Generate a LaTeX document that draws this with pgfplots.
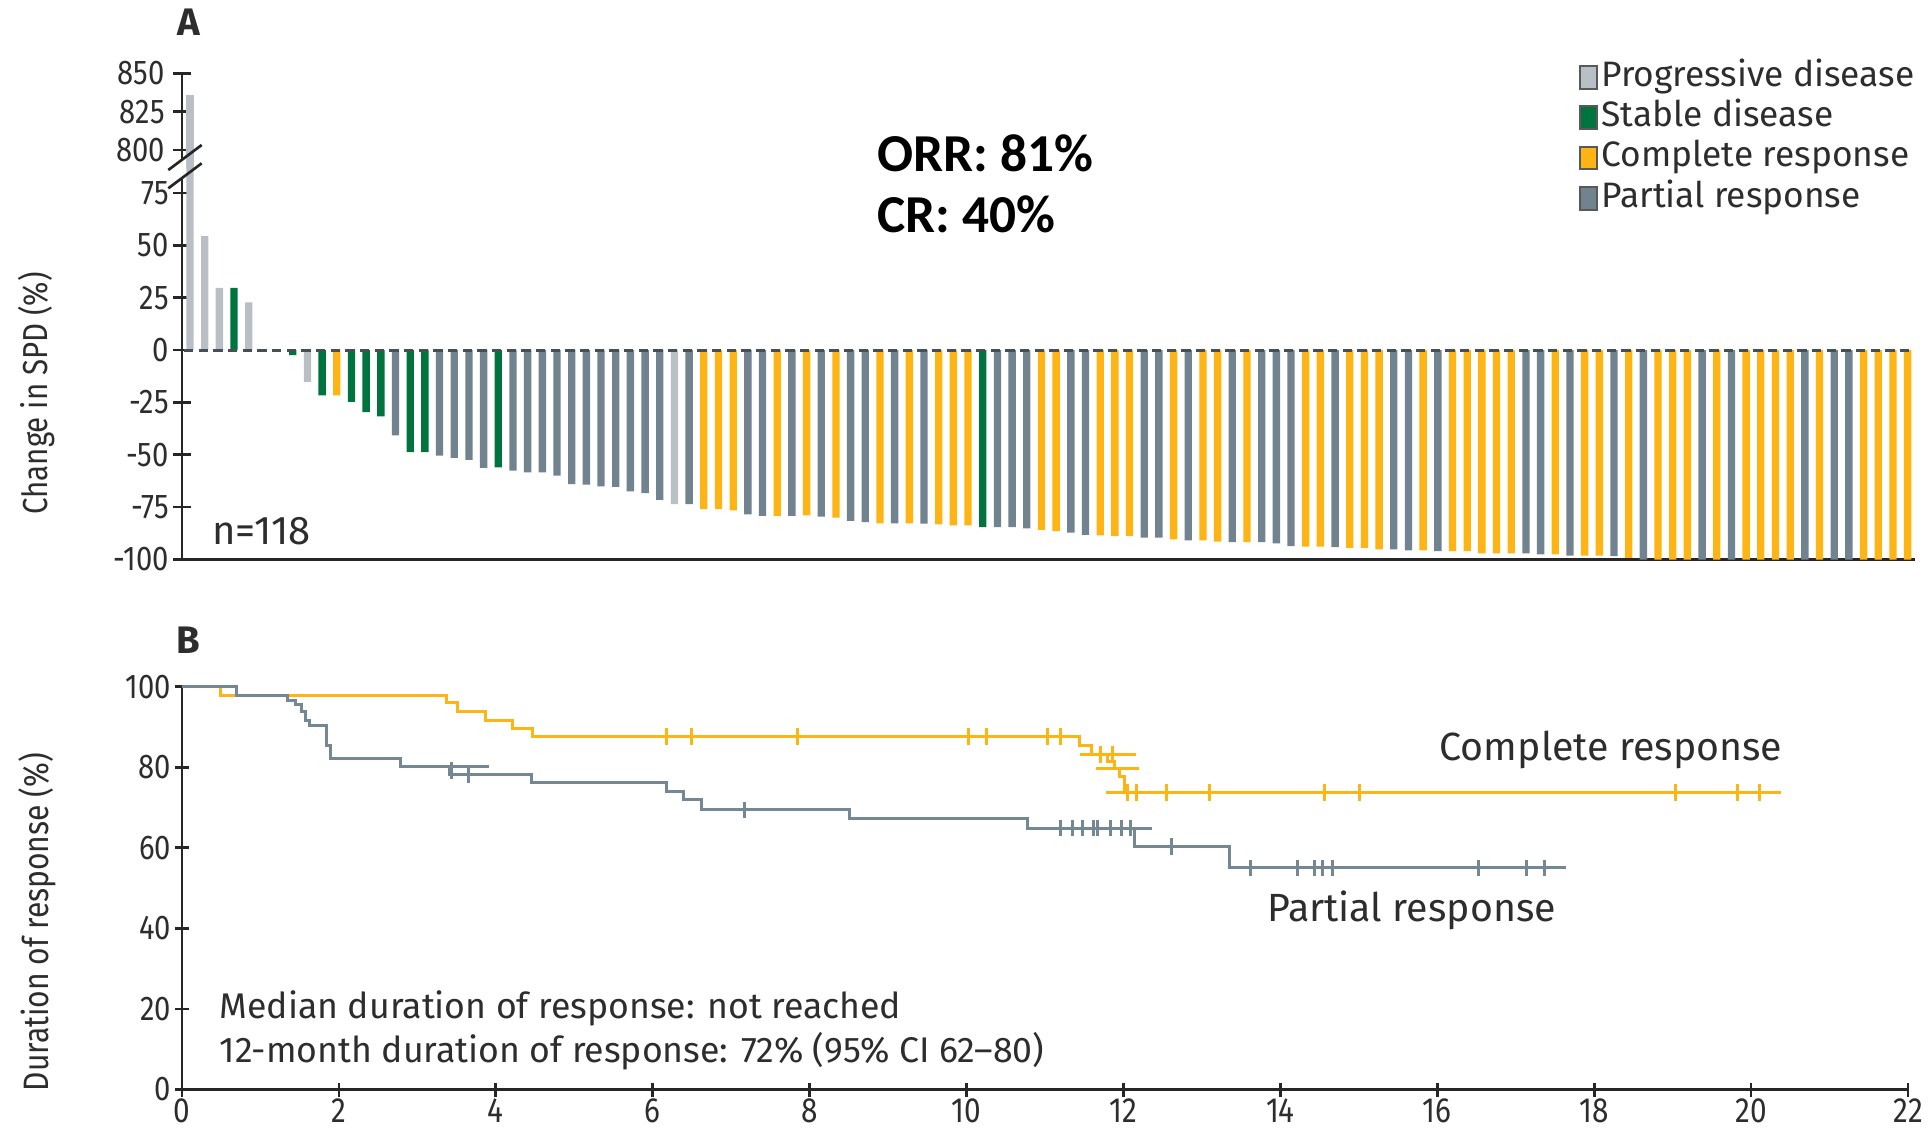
\documentclass[border=0pt]{standalone}
\usepackage{pgfplots}
\pgfplotsset{compat=1.18}
\usepackage{fontspec}
\setmainfont{Fira Sans}
\newfontfamily\condfont{Fira Sans}[FakeStretch=0.85]
\newfontfamily\carlito{Carlito}
\definecolor{pdgray}{RGB}{184,192,198}
\definecolor{sdgreen}{RGB}{0,115,62}
\definecolor{crorange}{RGB}{253,180,20}
\definecolor{prgray}{RGB}{113,131,143}
\definecolor{kmgray}{RGB}{115,135,148}
\definecolor{txt}{RGB}{45,45,45}
\begin{document}
\begin{tikzpicture}
\useasboundingbox (0,0) rectangle (578.4pt,340.8pt);
\pgfplotsset{
  myaxis/.style={scale only axis, anchor=south west,
    tick style={line width=0.8pt, black!85},
    tick align=outside, major tick length=5.5pt,
    ticklabel style={font=\condfont\fontsize{10.3}{12}\selectfont, text=txt},
    yticklabel style={inner xsep=1pt},
  },
  nolinearrows/.style={axis line style={-, line width=0.8pt, black!85},
    every outer x axis line/.append style={-},
    every outer y axis line/.append style={-}},
}
% ---------------- Panel A, upper part of broken axis
\begin{axis}[myaxis, at={(54.6pt,290.1pt)}, width=519.75pt, height=28.71pt,
  xmin=0.455, xmax=118.47, ymin=787.6, ymax=850,
  axis y line=left, axis x line=none, nolinearrows,
  yticklabel style={xshift=-1.2pt},
  ytick={800,825,850}, yticklabels={800,825,850}, bar width=0.5]
\addplot[ybar, bar shift=0pt, fill=pdgray, draw=none] coordinates {(1,836)};
\end{axis}
% ---------------- Panel A, lower part
\begin{axis}[myaxis, at={(54.6pt,172.95pt)}, width=519.75pt, height=117.15pt,
  xmin=0.455, xmax=118.47, ymin=-100, ymax=86.4,
  axis lines=left, nolinearrows, xtick=\empty,
  ytick={-100,-75,-50,-25,0,25,50,75},
  yticklabels={-100,-75,-50,-25,0,25,50,75},
  bar width=0.5,
  legend cell align=left,
  legend style={at={(0.806,1.288)}, anchor=north west, draw=none, fill=none,
    inner sep=0pt, font=\fontsize{10.6}{12}\selectfont, text=txt,
    nodes={inner sep=1.15pt, text height=7.5pt, text depth=2.3pt}}]
\addplot[ybar, bar shift=0pt, fill=pdgray, draw=none,
  legend image code/.code={\draw[draw=black!65, line width=0.6pt, fill=pdgray] (0pt,-3.4pt) rectangle (5pt,3.4pt);}]
  coordinates {(1,836) (2,54.4) (3,29.6) (5,22.7) (9,-15.2) (34,-73.6)};
\addlegendentry{Progressive disease}
\addplot[ybar, bar shift=0pt, fill=sdgreen, draw=none,
  legend image code/.code={\draw[draw=black!65, line width=0.6pt, fill=sdgreen] (0pt,-3.4pt) rectangle (5pt,3.4pt);}]
  coordinates {(4,29.6) (8,-2.4) (10,-21.6) (12,-24.8) (13,-29.6) (14,-31.7)
  (16,-48.8) (17,-48.8) (22,-56) (55,-84.5)};
\addlegendentry{Stable disease}
\addplot[ybar, bar shift=0pt, fill=crorange, draw=none,
  legend image code/.code={\draw[draw=black!65, line width=0.6pt, fill=crorange] (0pt,-3.4pt) rectangle (5pt,3.4pt);}]
  coordinates {(11,-21.6) (36,-76) (37,-76) (38,-76.5) (41,-79.2) (43,-78.9)
  (45,-80) (48,-82.7) (50,-82.7) (52,-83.2) (53,-83.7) (54,-83.7) (59,-85.9)
  (60,-86.4) (63,-88.5) (64,-88.8) (65,-88.8) (68,-90.4) (70,-90.9) (71,-91.5)
  (73,-91.7) (77,-93.8) (78,-93.8) (80,-94.4) (81,-94.4) (82,-95.2) (85,-95.7)
  (87,-96) (88,-96) (89,-97.1) (90,-97.1) (91,-97.1) (94,-97.6) (96,-98.1)
  (97,-98.1) (99,-99.2) (101,-100) (102,-100) (103,-100) (105,-100) (107,-100)
  (108,-100) (109,-100) (110,-100) (112,-100) (115,-100) (116,-100) (117,-100)
  (118,-100)};
\addlegendentry{Complete response}
\addplot[ybar, bar shift=0pt, fill=prgray, draw=none,
  legend image code/.code={\draw[draw=black!65, line width=0.6pt, fill=prgray] (0pt,-3.4pt) rectangle (5pt,3.4pt);}]
  coordinates {(15,-40.8) (18,-50.4) (19,-51.5) (20,-52.5) (21,-56.3) (23,-57.6)
  (24,-58.4) (25,-58.4) (26,-60) (27,-64) (28,-64.3) (29,-65.1) (30,-65.3)
  (31,-67.5) (32,-68.3) (33,-71.5) (35,-73.6) (39,-78.4) (40,-79.2) (42,-79.2)
  (44,-79.5) (46,-81.6) (47,-82.1) (49,-82.7) (51,-82.9) (56,-84.5) (57,-84.5)
  (58,-85.1) (61,-87.2) (62,-88.3) (66,-89.6) (67,-89.6) (69,-90.9) (72,-91.7)
  (74,-91.7) (75,-92.3) (76,-93.6) (79,-94.1) (83,-95.2) (84,-95.7) (86,-96)
  (92,-97.1) (93,-97.6) (95,-98.1) (98,-98.4) (100,-100) (104,-100) (106,-100)
  (111,-100) (113,-100) (114,-100)};
\addlegendentry{Partial response}
\addplot[forget plot, color=black!40!prgray, line width=0.9pt, dash pattern=on 2.8pt off 1.6pt]
  coordinates {(0.6,0) (118.47,0)};
\end{axis}
% break marks
\fill[white] (53.4pt,291.99pt) -- (55.8pt,293.79pt) -- (55.8pt,288.3pt) -- (53.4pt,286.5pt) -- cycle;
\draw[line width=0.8pt, black!85] (50.49pt,289.8pt) -- (60.51pt,297.3pt);
\draw[line width=0.8pt, black!85] (50.49pt,284.31pt) -- (60.51pt,291.81pt);
% ---------------- Panel B
\begin{axis}[myaxis, at={(54.6pt,13.95pt)}, width=517.8pt, height=120.84pt,
  xmin=0, xmax=22, ymin=0, ymax=100, axis lines=left, nolinearrows, clip=false,
  major tick length=4.2pt,
  xticklabel style={font=\condfont\fontsize{10.5}{12}\selectfont, inner ysep=0.6pt},
  xtick={0,2,4,6,8,10,12,14,16,18,20,22},
  xticklabels={0,2,4,6,8,10,12,14,16,18,20,22},
  ytick={0,20,40,60,80,100}, yticklabels={0,20,40,60,80,100}]
\addplot[const plot, color=crorange, line width=0.9pt] coordinates {
  (0,100) (0.49,97.7) (3.37,96.1) (3.51,93.8) (3.87,91.7) (4.21,89.7)
  (4.47,87.6) (11.44,85.5) (11.59,83.1) (11.80,81.4) (11.88,79.8) (11.95,77.7)
  (12.01,73.7) (20.38,73.7)};
\addplot[only marks, mark=|, mark size=2.5pt, color=crorange, mark options={line width=0.9pt}] coordinates {
  (6.17,87.6) (6.50,87.6) (7.85,87.6) (10.03,87.6) (10.26,87.6) (11.03,87.6)
  (11.20,87.6) (11.71,83.1) (11.86,83.1) (12.05,73.7) (12.17,73.7) (12.55,73.7)
  (13.10,73.7) (14.56,73.7) (15.01,73.7) (19.04,73.7) (19.83,73.7) (20.11,73.7)};
\addplot[color=crorange, line width=0.9pt] coordinates {(11.44,83.1) (12.16,83.1)};
\addplot[color=crorange, line width=0.9pt] coordinates {(11.65,79.8) (12.2,79.8)};
\addplot[color=crorange, line width=0.9pt] coordinates {(11.78,73.7) (12.01,73.7)};
\addplot[const plot, color=kmgray, line width=0.9pt] coordinates {
  (0,100) (0.69,97.9) (1.35,96.7) (1.45,95.5) (1.52,93.8) (1.58,91.7)
  (1.62,90.3) (1.84,85.5) (1.89,82.2) (2.79,80.2) (3.41,78.1) (4.45,76.1)
  (6.17,74.0) (6.39,71.9) (6.62,69.4) (8.51,67.4) (10.78,64.9) (12.14,60.3)
  (13.35,55.0) (17.64,55.0)};
\addplot[only marks, mark=|, mark size=2.5pt, color=kmgray, mark options={line width=0.9pt}] coordinates {
  (3.43,79.2) (3.65,78.1) (7.17,69.4) (11.20,64.9) (11.35,64.9) (11.48,64.9)
  (11.62,64.9) (11.67,64.9) (11.84,64.9) (11.97,64.9) (12.09,64.9) (12.61,60.3)
  (13.62,55.0) (14.22,55.0) (14.44,55.0) (14.54,55.0) (14.67,55.0) (16.53,55.0)
  (17.14,55.0) (17.37,55.0)};
\addplot[color=kmgray, line width=0.9pt] coordinates {(3.41,80.2) (3.91,80.2)};
\addplot[color=kmgray, line width=0.9pt] coordinates {(12.14,64.9) (12.37,64.9)};
\end{axis}
% ---------------- texts
\node[font=\bfseries\fontsize{11.5}{13}\selectfont, text=txt] at (56.7pt,334.2pt) {A};
\node[font=\bfseries\fontsize{11.5}{13}\selectfont, text=txt] at (56.4pt,148.8pt) {B};
\node[anchor=west, inner sep=0pt, font=\carlito\bfseries\fontsize{16}{19}\selectfont] at (263.1pt,294.9pt) {ORR: 81\%};
\node[anchor=west, inner sep=0pt, font=\carlito\bfseries\fontsize{16}{19}\selectfont] at (263.1pt,276.6pt) {CR: 40\%};
\node[anchor=west, inner sep=0pt, font=\fontsize{12}{14}\selectfont, text=txt] at (63.45pt,181.5pt) {n=118};
\node[rotate=90, inner sep=0pt, font=\condfont\fontsize{10.4}{12}\selectfont, text=txt] at (11.1pt,222.75pt) {Change in SPD (\%)};
\node[rotate=90, inner sep=0pt, font=\condfont\fontsize{10.6}{12}\selectfont, text=txt] at (11.1pt,64.2pt) {Duration of response (\%)};
\node[anchor=west, inner sep=0pt, font=\fontsize{10.7}{12}\selectfont, text=txt] at (65.7pt,38.4pt) {Median duration of response: not reached};
\node[anchor=west, inner sep=0pt, font=\fontsize{10.7}{12}\selectfont, text=txt] at (65.7pt,25.5pt) {12-month duration of response: 72\% (95\% CI 62–80)};
\node[anchor=west, inner sep=0pt, font=\fontsize{11.8}{13}\selectfont, text=txt] at (431.7pt,115.8pt) {Complete response};
\node[anchor=west, inner sep=0pt, font=\fontsize{11.8}{13}\selectfont, text=txt] at (380pt,67.8pt) {Partial response};
\end{tikzpicture}
\end{document}
